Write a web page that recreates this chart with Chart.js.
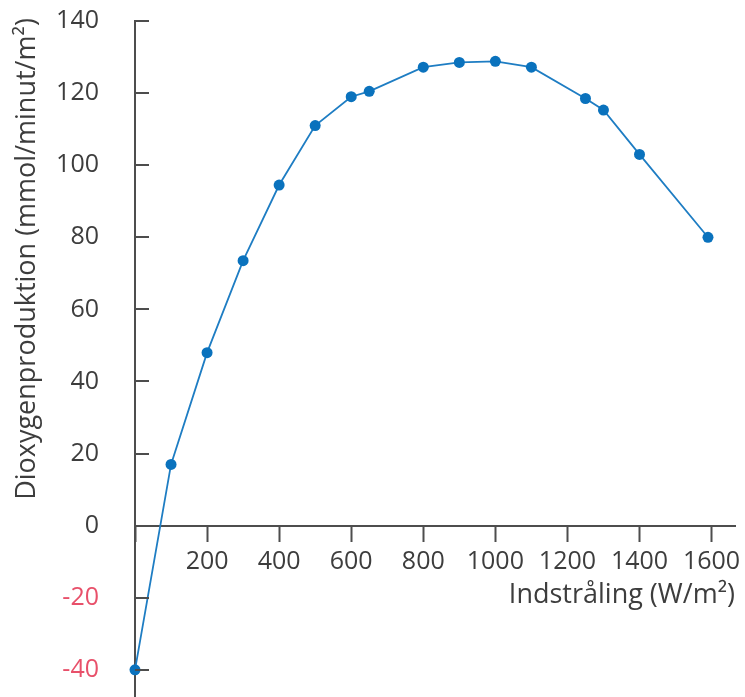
<!DOCTYPE html>
<html>
<head>
<meta charset="utf-8">
<script src="https://cdn.jsdelivr.net/npm/chart.js@4.4.1/dist/chart.umd.min.js"></script>
<style>
    html, body { margin: 0; padding: 0; background: #fff; }
    #wrap { width: 745px; height: 697px; position: relative; }
</style>
</head>
<body>
<div id="wrap"><canvas id="chart"></canvas></div>
<script>
const irradiance = [0, 100, 200, 300, 400, 500, 600, 650, 800, 900, 1000, 1100, 1250, 1300, 1400, 1590];
const oxygenRate = [-40, 17, 48, 73.5, 94.5, 111, 119, 120.5, 127.2, 128.5, 128.8, 127.2, 118.5, 115.3, 103, 80];
const xTicks = [200, 400, 600, 800, 1000, 1200, 1400, 1600];
const yTicks = [-40, -20, 0, 20, 40, 60, 80, 100, 120, 140];
const xTitle = 'Indstråling (W/m²)';
const yTitle = 'Dioxygenproduktion (mmol/minut/m²)';

const axisColor = '#4d4d4d';
const textColor = '#3d3d3d';
const negColor = '#e8506a';
const lineColor = '#1e7dc3';
const font = '"Open Sans", sans-serif';

// y tick marks point inward (right of the axis), titles drawn by hand
const axisExtras = {
    id: 'axisExtras',
    afterDraw(chart) {
        const ctx = chart.ctx;
        const y = chart.scales.y;
        const x = chart.scales.x;
        ctx.save();
        ctx.strokeStyle = axisColor;
        ctx.lineWidth = 2;
        yTicks.forEach(v => {
            const py = Math.round(y.getPixelForValue(v));
            ctx.beginPath();
            ctx.moveTo(y.right, py);
            ctx.lineTo(y.right + 14, py);
            ctx.stroke();
        });
        // axis line runs on to the bottom edge
        ctx.beginPath();
        ctx.moveTo(y.right, y.bottom);
        ctx.lineTo(y.right, chart.height);
        ctx.stroke();

        ctx.fillStyle = textColor;
        ctx.font = '27px ' + font;
        ctx.textAlign = 'right';
        ctx.textBaseline = 'alphabetic';
        ctx.fillText(xTitle, x.right, y.getPixelForValue(0) + 77);

        ctx.translate(27, 259);
        ctx.rotate(-Math.PI / 2);
        ctx.textAlign = 'center';
        ctx.textBaseline = 'middle';
        ctx.fillText(yTitle, 0, 0);
        ctx.restore();
    }
};

new Chart(document.getElementById('chart').getContext('2d'), {
    type: 'scatter',
    data: {
        datasets: [{
            data: irradiance.map((v, i) => ({ x: v, y: oxygenRate[i] })),
            showLine: true,
            borderColor: lineColor,
            borderWidth: 1.8,
            backgroundColor: '#0a72bd',
            pointBackgroundColor: '#0a72bd',
            pointBorderWidth: 0,
            pointRadius: 5.5,
            clip: false
        }]
    },
    options: {
        responsive: true,
        maintainAspectRatio: false,
        animation: false,
        layout: { padding: { left: 0, right: 10, top: 21, bottom: 0 } },
        scales: {
            x: {
                type: 'linear',
                position: { y: 0 },
                min: 0,
                max: 1665,
                afterFit: s => { s.paddingLeft = 0; s.paddingRight = 0; s.paddingTop = 0; s.paddingBottom = 0; },
                ticks: {
                    stepSize: 200,
                    includeBounds: false,
                    maxRotation: 0,
                    padding: 6,
                    color: textColor,
                    font: { family: font, size: 25 },
                    callback: v => xTicks.includes(v) ? v : ''
                },
                grid: {
                    drawOnChartArea: false,
                    drawTicks: true,
                    tickLength: 15,
                    tickWidth: 2,
                    tickColor: axisColor
                },
                border: { display: true, color: axisColor, width: 2 }
            },
            y: {
                type: 'linear',
                position: 'left',
                min: -46,
                max: 140,
                afterFit: s => { s.width = 135; s.paddingTop = 0; s.paddingBottom = 0; },
                ticks: {
                    stepSize: 20,
                    includeBounds: false,
                    padding: 36,
                    color: ctx => ctx.tick.value < 0 ? negColor : textColor,
                    font: { family: font, size: 25 },
                    callback: v => yTicks.includes(v) ? v : ''
                },
                grid: { drawOnChartArea: false, drawTicks: false },
                border: { display: true, color: axisColor, width: 2 }
            }
        },
        plugins: {
            legend: { display: false },
            tooltip: { enabled: false }
        }
    },
    plugins: [axisExtras]
});
</script>
</body>
</html>
